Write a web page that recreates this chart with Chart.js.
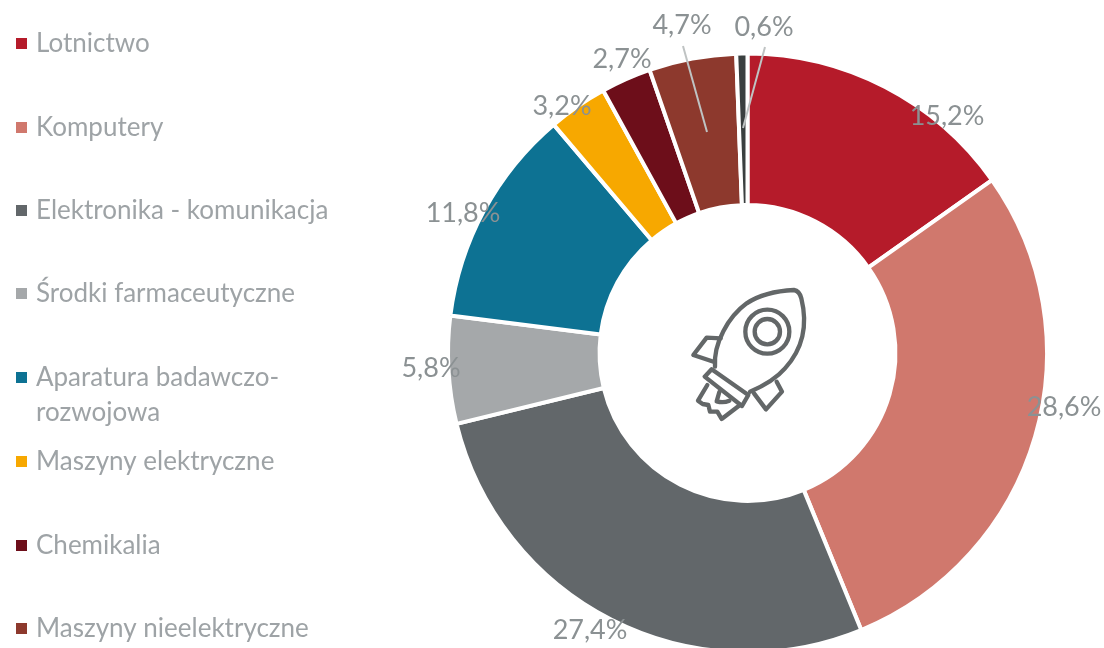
<!DOCTYPE html>
<html><head><meta charset="utf-8">
<style>html,body{margin:0;padding:0;background:#fff;overflow:hidden}#w{width:1104px;height:648px;position:relative;overflow:hidden}canvas{display:block}</style>
<script src="https://cdn.jsdelivr.net/npm/chart.js@4"></script>
</head><body><div id="w"><canvas id="c" width="1104" height="660"></canvas></div>
<script>
const categories = ['Lotnictwo','Komputery','Elektronika - komunikacja','Środki farmaceutyczne','Aparatura badawczo-\nrozwojowa','Maszyny elektryczne','Chemikalia','Maszyny nieelektryczne'];
const values = [15.2,28.6,27.4,5.8,11.8,3.2,2.7,4.7,0.6];
const valueLabels = ['15,2%','28,6%','27,4%','5,8%','11,8%','3,2%','2,7%','4,7%','0,6%'];
const colors = ['#b51b2a','#d0786d','#62676a','#a5a8aa','#0d7293','#f7a800','#6d0e1a','#8d392d','#3a3f3f'];
const labelPos = [[947,116],[1064,407],[590,630],[431,368],[463,213],[562,106],[622,59],[682,25],[764,27]];
const leaders = [[[683,46],[707,132]],[[765,47],[743,128]]];
const legendY = [43,127,210,293,377,461,545,628];
const FONT = 'Lato, Carlito, "Open Sans", sans-serif';

const overlay = {
  id:'overlay',
  afterDraw(chart){
    const g = chart.ctx; g.save();
    // leader lines
    g.strokeStyle='#bfc3c3'; g.lineWidth=2;
    leaders.forEach(l=>{g.beginPath();g.moveTo(l[0][0],l[0][1]);g.lineTo(l[1][0],l[1][1]);g.stroke();});
    // value labels
    g.font='27px '+FONT; g.fillStyle='#8b9193'; g.textAlign='center'; g.textBaseline='middle';
    valueLabels.forEach((t,i)=>g.fillText(t,labelPos[i][0],labelPos[i][1]));
    // legend
    g.textAlign='left'; g.font='26px '+FONT;
    categories.forEach((t,i)=>{
      g.fillStyle=colors[i]; g.fillRect(16,legendY[i]-5,11,11);
      g.fillStyle='#9ea3a6';
      t.split('\n').forEach((line,k)=>g.fillText(line,36,legendY[i]+1+k*35));
    });
    // rocket icon
    g.translate(660,270); g.scale(1/3,1/3);
    g.strokeStyle='#636768'; g.lineWidth=13; g.lineJoin='round'; g.lineCap='round';
    const p=(f)=>{g.beginPath();f();g.stroke();};
    p(()=>{g.moveTo(165,290);g.bezierCurveTo(160,220,205,140,260,100);g.bezierCurveTo(305,70,360,62,402,60);
      g.bezierCurveTo(415,62,420,70,424,85);g.bezierCurveTo(445,170,425,240,375,295);g.bezierCurveTo(345,330,305,350,270,365);});
    p(()=>{g.arc(322,185,66,0,Math.PI*2);});
    p(()=>{g.arc(322,185,38,0,Math.PI*2);});
    p(()=>{g.moveTo(155,298);g.lineTo(265,375);g.lineTo(246,408);g.lineTo(134,320);g.closePath();});
    p(()=>{g.moveTo(182,205);g.lineTo(140,203);g.lineTo(100,255);g.lineTo(163,276);});
    p(()=>{g.moveTo(350,335);g.lineTo(366,365);g.lineTo(318,418);g.lineTo(282,370);});
    p(()=>{g.moveTo(142,345);g.lineTo(114,392);g.lineTo(128,402);g.lineTo(145,405);g.lineTo(150,425);g.lineTo(172,425);g.lineTo(185,447);g.lineTo(240,405);});
    p(()=>{g.moveTo(178,366);g.lineTo(170,394);g.quadraticCurveTo(190,400,208,392);});
    g.restore();
  }
};

new Chart(document.getElementById('c'),{
  type:'doughnut',
  data:{labels:values.map((v,i)=>categories[i]||''),datasets:[{data:values,backgroundColor:colors,borderColor:'#ffffff',borderWidth:4,hoverOffset:0}]},
  options:{
    responsive:false,animation:false,cutout:'49.4%',rotation:0,circumference:360,
    layout:{padding:{left:446,right:55,top:51.5,bottom:5.5}},
    plugins:{legend:{display:false},tooltip:{enabled:false}}
  },
  plugins:[overlay]
});
</script></body></html>
